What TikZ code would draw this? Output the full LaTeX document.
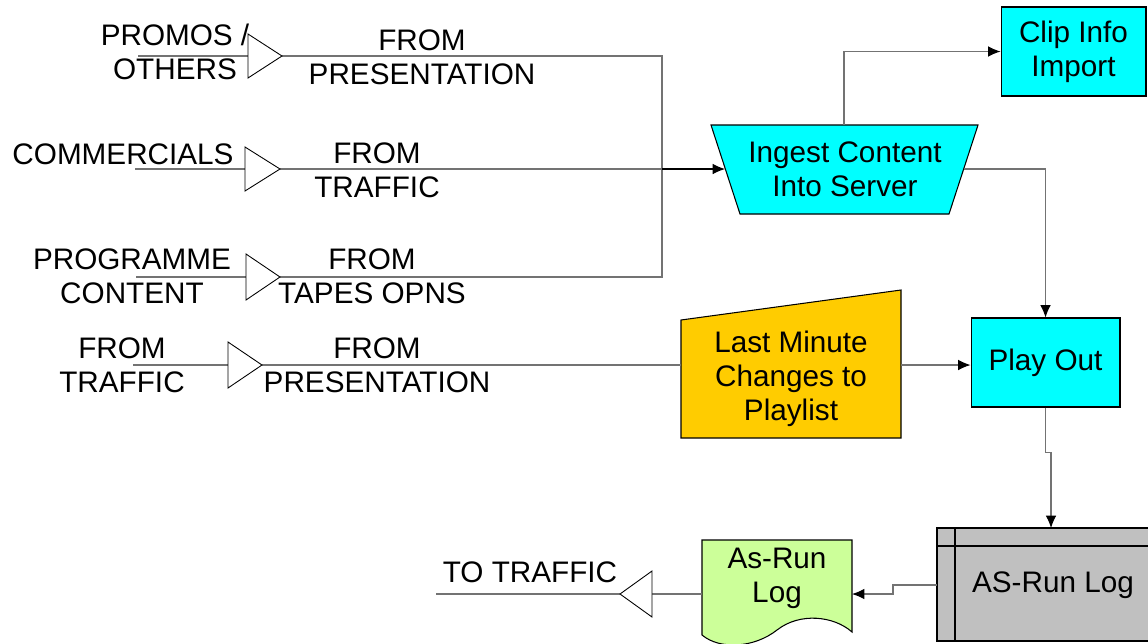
\documentclass[tikz,border=0pt]{standalone}
\usepackage{fontspec}
\setmainfont{Liberation Sans}
\usetikzlibrary{arrows.meta}
\definecolor{ingestcyan}{RGB}{0,255,255}
\definecolor{lmcorange}{RGB}{255,204,0}
\definecolor{docgreen}{RGB}{204,255,153}
\definecolor{loggray}{RGB}{192,192,192}
\tikzset{
    wire/.style={draw=black!55, line width=0.6pt},
    arr/.style={wire, -{Latex[length=7pt,width=6pt,color=black]}},
    tri/.style={draw=black, fill=white, line width=0.5pt},
    lbl/.style={align=center, inner sep=0pt, font=\fontsize{16.9}{19.4}\selectfont},
    shp/.style={draw=black, line width=0.6pt},
    box/.style={shp, lbl, fill=ingestcyan}
}
\begin{document}
\begin{tikzpicture}[x=0.02cm, y=-0.02cm]
            \useasboundingbox (0,0) rectangle (1148,643);
            \coordinate (s1) at (138,56);  \coordinate (t1in) at (248,56);  \coordinate (t1out) at (282,56);
            \coordinate (s2) at (135,169); \coordinate (t2in) at (245,169); \coordinate (t2out) at (280,169);
            \coordinate (s3) at (136,277); \coordinate (t3in) at (246,277); \coordinate (t3out) at (280,277);
            \coordinate (s4) at (133,365); \coordinate (t4in) at (228,365); \coordinate (t4out) at (262,365);
            \coordinate (j1) at (662,56); \coordinate (j2) at (662,169); \coordinate (j3) at (662,277);
            \coordinate (ingestin) at (725,169); \coordinate (ingestout) at (964,169); \coordinate (ingesttop) at (844,125);
            \coordinate (lmcin) at (681,365); \coordinate (lmcout) at (901,365);
            \coordinate (asruntop) at (1051,528); \coordinate (asrunin) at (937,585);
            \coordinate (docin) at (852,594); \coordinate (docout) at (702,594);
            \coordinate (ttbase) at (652,594); \coordinate (ttapex) at (620,594); \coordinate (ttend) at (436,594);
            \draw[shp, fill=ingestcyan] (711,125) -- (978,125) -- (949,214) -- (740,214) -- cycle;
            \node[lbl] (ingest) at (845,169) {Ingest Content\\Into Server};
            \node[box, minimum width=2.9cm, minimum height=1.78cm] (clip) at (1073.5,51.5) {Clip Info\\Import};
            \node[box, minimum width=2.98cm, minimum height=1.78cm] (play) at (1045.5,362.5) {Play Out};
            \draw[shp, fill=lmcorange] (681,320) -- (901,290) -- (901,438) -- (681,438) -- cycle;
            \node[lbl] (lmc) at (791,379) {Last Minute\\Changes to\\Playlist};
            \draw[shp, fill=loggray] (937,528) rectangle (1160,641);
            \draw[shp] (955,528) -- (955,641) (937,546) -- (1160,546);
            \node[lbl] (asrun) at (1053,585) {AS-Run Log};
            \draw[shp, fill=docgreen] (702,540) -- (852,540) -- (852,632) .. controls (834,616) and (800,612) .. (777,630) .. controls (754,648) and (720,650) .. (702,635) -- cycle;
            \node[lbl] (doc) at (777,578) {As-Run\\Log};
            \draw[wire] (s1) -- (t1in);
            \draw[wire] (s2) -- (t2in);
            \draw[wire] (s3) -- (t3in);
            \draw[wire] (s4) -- (t4in);
            \draw[wire] (t1out) -- (j1) -- (j3) -- (t3out);
            \draw[wire] (t2out) -- (j2);
            \draw[arr, draw=black] (j2) -- (ingestin);
            \draw[arr] (ingesttop) |- (clip.west);
            \draw[arr] (ingestout) -| (play.north);
            \draw[wire] (t4out) -- (lmcin);
            \draw[arr] (lmcout) -- (lmcout -| play.west);
            \draw[arr] (play.south) -- ++(0,45) -| (asruntop);
            \draw[arr] (asrunin) -- ++(-44,0) |- (docin);
            \draw[wire] (docout) -- (ttbase);
            \draw[wire] (ttapex) -- (ttend);
            \draw[tri] (t1in) -- ++(0,-22) -- (t1out) -- ++(-34,22) -- cycle;
            \draw[tri] (t2in) -- ++(0,-22) -- (t2out) -- ++(-35,22) -- cycle;
            \draw[tri] (t3in) -- ++(0,-23) -- (t3out) -- ++(-34,23) -- cycle;
            \draw[tri] (t4in) -- ++(0,-23) -- (t4out) -- ++(-34,23) -- cycle;
            \draw[tri] (ttbase) -- ++(0,-23) -- (ttapex) -- ++(32,23) -- cycle;
            \node[lbl] (promos) at (175,52) {PROMOS /\\OTHERS};
            \node[lbl] (from1) at (422,57) {FROM\\PRESENTATION};
            \node[lbl] (comm) at (123,154) {COMMERCIALS};
            \node[lbl] (from2) at (377,170) {FROM\\TRAFFIC};
            \node[lbl] (prog) at (132,276) {PROGRAMME\\CONTENT};
            \node[lbl] (from3) at (372,276) {FROM\\TAPES OPNS};
            \node[lbl] (traf4) at (122,365) {FROM\\TRAFFIC};
            \node[lbl] (from4) at (377,365) {FROM\\PRESENTATION};
            \node[lbl] (totraffic) at (530,572) {TO TRAFFIC};
        \end{tikzpicture}
\end{document}
